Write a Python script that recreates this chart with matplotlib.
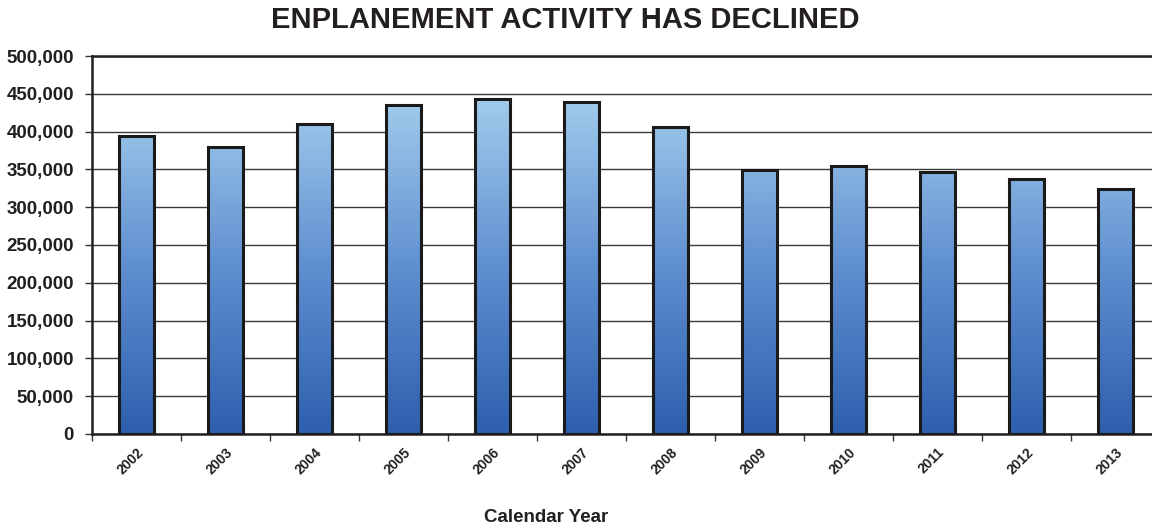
import numpy as np
import matplotlib
matplotlib.use("Agg")
import matplotlib.pyplot as plt
from matplotlib.colors import LinearSegmentedColormap
from matplotlib.ticker import FuncFormatter, MultipleLocator

plt.rcParams['font.family'] = ['Liberation Sans', 'DejaVu Sans']

years = ["2002", "2003", "2004", "2005", "2006", "2007",
         "2008", "2009", "2010", "2011", "2012", "2013"]
enplanements = [394000, 380000, 410000, 435000, 443500, 438500,
                405500, 349500, 354000, 346500, 337000, 323500]

fig = plt.figure(figsize=(11.52, 5.29), dpi=100)
ax = fig.add_axes([92 / 1152, 1 - 434 / 529, 1068 / 1152, 378 / 529])

x = np.arange(len(years))
bars = ax.bar(x, enplanements, width=0.4, color="none",
              edgecolor="#1a1a1a", linewidth=2.2, zorder=3)

# vertical blue gradient inside each bar
cmap = LinearSegmentedColormap.from_list("blues", ["#2d5fae", "#5f8fd0", "#a0cbec"])
grad = np.linspace(0, 1, 256).reshape(-1, 1)
for b in bars:
    x0, w = b.get_x(), b.get_width()
    im = ax.imshow(grad, extent=[x0, x0 + w, 0, 440000], origin="lower",
                   cmap=cmap, aspect="auto", zorder=2, interpolation="bilinear")
    im.set_clip_path(b)

ax.set_xlim(-0.5, len(years) - 0.5)
ax.set_ylim(0, 500000)
ax.yaxis.set_major_locator(MultipleLocator(50000))
ax.yaxis.set_major_formatter(FuncFormatter(lambda v, p: f"{int(v):,}"))
ax.grid(axis="y", color="#3a3a3a", linewidth=1.0, zorder=1)
ax.set_axisbelow(True)

ax.set_xticks(x)
ax.set_xticklabels(years, rotation=45, ha="right", va="top",
                   rotation_mode="anchor", fontsize=10, fontweight="bold",
                   color="#231f20")
ax.tick_params(axis="x", which="major", length=0, pad=8)
ax.set_xticks(np.arange(len(years) + 1) - 0.5, minor=True)
ax.tick_params(axis="x", which="minor", length=5, width=1, color="#333333")
ax.tick_params(axis="y", length=5, width=1, color="#333333", pad=8,
               labelsize=13.5, labelcolor="#231f20")
for lbl in ax.get_yticklabels():
    lbl.set_fontweight("bold")

for side in ("left", "bottom", "top"):
    ax.spines[side].set_color("#231f20")
    ax.spines[side].set_linewidth(1.8)
ax.spines["right"].set_visible(False)

fig.text(565 / 1152, 1 - 20 / 529, "ENPLANEMENT ACTIVITY HAS DECLINED",
         ha="center", va="center", fontsize=21, fontweight="bold", color="#231f20")
fig.text(546 / 1152, 1 - 518 / 529, "Calendar Year",
         ha="center", va="center", fontsize=13.5, fontweight="bold", color="#231f20")

fig.savefig("out.png", dpi=100, facecolor="white")
